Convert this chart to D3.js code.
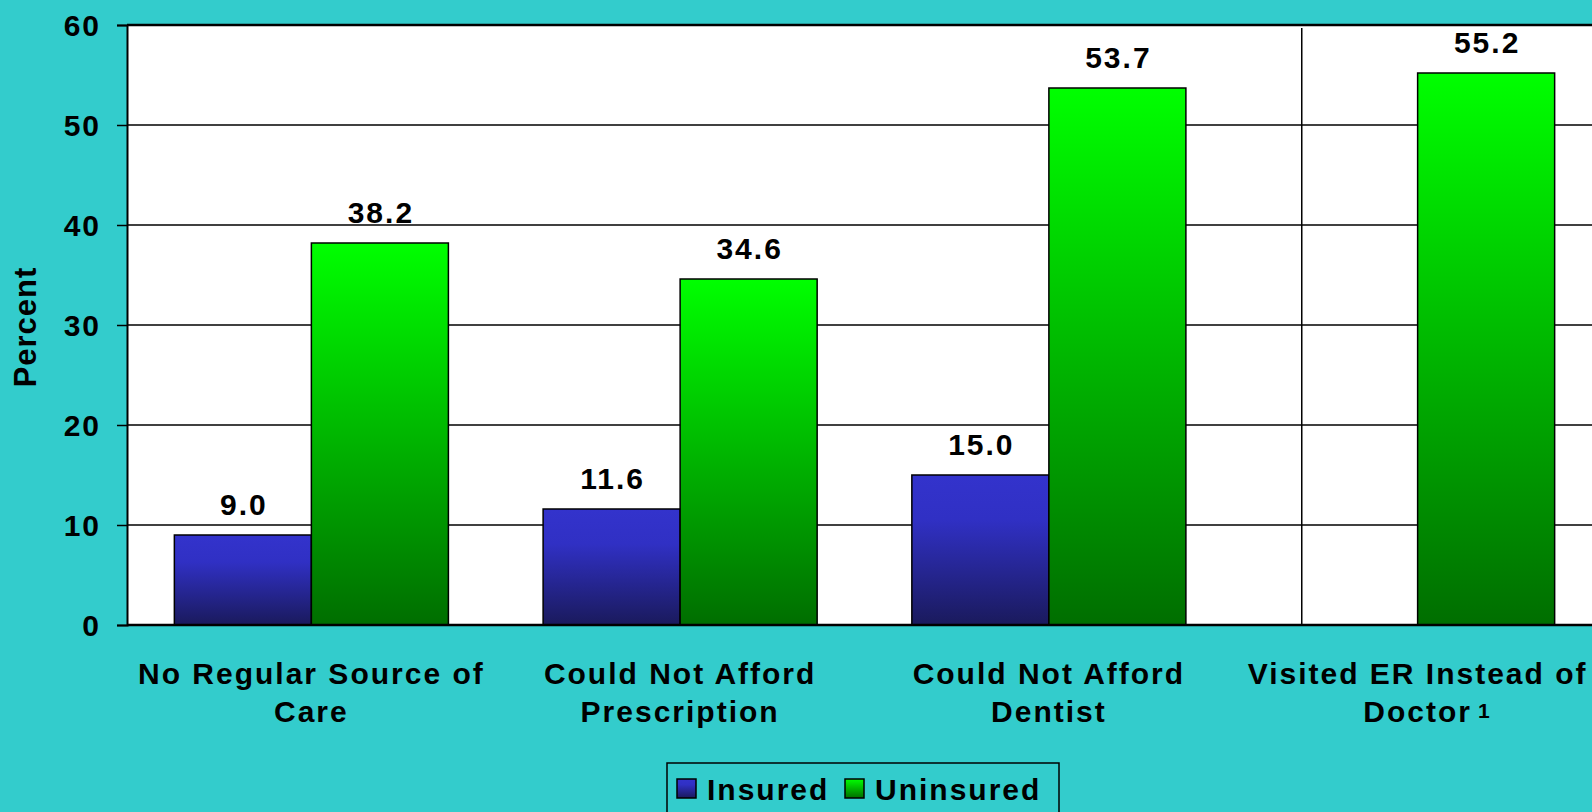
<!DOCTYPE html>
<html>
<head>
<meta charset="utf-8">
<script src="https://cdn.jsdelivr.net/npm/d3@7/dist/d3.min.js"></script>
<style>
  html, body { margin: 0; padding: 0; background: #33cccc; overflow: hidden; }
  text { font-family: "Liberation Sans", Arial, sans-serif; font-weight: bold; fill: #000; }
</style>
</head>
<body>
<svg id="chart" width="1592" height="812"></svg>
<script>
// chart data
var categories = ["No Regular Source of Care", "Could Not Afford Prescription", "Could Not Afford Dentist", "Visited ER Instead of Doctor"];
var categoryLines = [["No Regular Source of", "Care"], ["Could Not Afford", "Prescription"], ["Could Not Afford", "Dentist"], ["Visited ER Instead of", "Doctor"]];
var seriesNames = ["Insured", "Uninsured"];
var insured = [9.0, 11.6, 15.0, null];
var uninsured = [38.2, 34.6, 53.7, 55.2];
var yTicks = [0, 10, 20, 30, 40, 50, 60];

var svg = d3.select("#chart");

var plot = {left: 127, top: 25, right: 1602, bottom: 625};

var x = d3.scaleBand()
    .domain(categories)
    .range([plot.left, plot.right])
    .paddingInner(0).paddingOuter(0);

var xs = d3.scaleBand()
    .domain(seriesNames)
    .range([0, x.bandwidth()])
    .paddingInner(0)
    .paddingOuter(0.3456);

var y = d3.scaleLinear().domain([0, 60]).range([plot.bottom, plot.top]);

// gradients
var defs = svg.append("defs");
var gBlue = defs.append("linearGradient").attr("id", "gradBlue")
    .attr("x1", 0).attr("y1", 0).attr("x2", 0).attr("y2", 1);
gBlue.append("stop").attr("offset", "0%").attr("stop-color", "#3333cc");
gBlue.append("stop").attr("offset", "30%").attr("stop-color", "#3030c4");
gBlue.append("stop").attr("offset", "100%").attr("stop-color", "#1a1a5c");
var gGreen = defs.append("linearGradient").attr("id", "gradGreen")
    .attr("x1", 0).attr("y1", 0).attr("x2", 0).attr("y2", 1);
gGreen.append("stop").attr("offset", "0%").attr("stop-color", "#00ff00");
gGreen.append("stop").attr("offset", "100%").attr("stop-color", "#006e00");

var fills = {Insured: "url(#gradBlue)", Uninsured: "url(#gradGreen)"};

// plot background
svg.append("rect")
    .attr("x", plot.left).attr("y", plot.top)
    .attr("width", plot.right - plot.left).attr("height", plot.bottom - plot.top)
    .attr("fill", "#fff");

// horizontal gridlines
svg.append("g")
    .selectAll("line")
    .data(yTicks.filter(function (d) { return d > 0 && d < 60; }))
    .enter().append("line")
    .attr("x1", plot.left).attr("x2", plot.right)
    .attr("y1", function (d) { return y(d); })
    .attr("y2", function (d) { return y(d); })
    .attr("stroke", "#000").attr("stroke-width", 1.5);

// vertical separator between last two groups
var sepX = ((x(categories[2]) + xs("Uninsured") + xs.bandwidth()) + (x(categories[3]) + xs("Uninsured"))) / 2;
svg.append("line")
    .attr("x1", sepX).attr("x2", sepX)
    .attr("y1", y(60) + 3).attr("y2", y(0))
    .attr("stroke", "#000").attr("stroke-width", 1.5);

// bars
var rows = [];
categories.forEach(function (c, i) {
    rows.push({cat: c, series: "Insured", value: insured[i]});
    rows.push({cat: c, series: "Uninsured", value: uninsured[i]});
});
rows = rows.filter(function (d) { return d.value != null; });

svg.append("g")
    .selectAll("rect")
    .data(rows)
    .enter().append("rect")
    .attr("x", function (d) { return x(d.cat) + xs(d.series); })
    .attr("y", function (d) { return y(d.value); })
    .attr("width", xs.bandwidth())
    .attr("height", function (d) { return y(0) - y(d.value); })
    .attr("fill", function (d) { return fills[d.series]; })
    .attr("stroke", "#000").attr("stroke-width", 1.5);

// value labels
svg.append("g")
    .selectAll("text")
    .data(rows)
    .enter().append("text")
    .attr("x", function (d) { return x(d.cat) + xs(d.series) + xs.bandwidth() / 2 + 1; })
    .attr("y", function (d) { return y(d.value) - 20; })
    .attr("text-anchor", "middle")
    .style("font-size", "30px")
    .style("letter-spacing", "2px")
    .text(function (d) { return d.value.toFixed(1); });

// axes frame
svg.append("line").attr("x1", plot.left).attr("x2", plot.right)
    .attr("y1", plot.top).attr("y2", plot.top)
    .attr("stroke", "#000").attr("stroke-width", 2.5);
svg.append("line").attr("x1", plot.left).attr("x2", plot.right)
    .attr("y1", plot.bottom).attr("y2", plot.bottom)
    .attr("stroke", "#000").attr("stroke-width", 2.5);

var yAxis = svg.append("g")
    .attr("transform", "translate(" + plot.left + ",0)")
    .call(d3.axisLeft(y).tickValues(yTicks).tickSize(10).tickPadding(16).tickFormat(d3.format("d")));
yAxis.select(".domain").attr("stroke", "#000").attr("stroke-width", 2);
yAxis.selectAll(".tick line").attr("stroke", "#000").attr("stroke-width", 1.5);
yAxis.selectAll(".tick text")
    .attr("fill", "#000")
    .attr("dy", "0.36em")
    .style("font-family", "\"Liberation Sans\", Arial, sans-serif")
    .style("font-weight", "bold")
    .style("font-size", "30px")
    .style("letter-spacing", "2px");

// y title
svg.append("text")
    .attr("transform", "translate(36,327) rotate(-90)")
    .attr("text-anchor", "middle")
    .style("font-size", "31px")
    .style("letter-spacing", "1px")
    .text("Percent");

// category labels
var catG = svg.append("g")
    .selectAll("text")
    .data(categories)
    .enter().append("text")
    .attr("text-anchor", "middle")
    .style("font-size", "30px")
    .style("letter-spacing", "2px");
catG.each(function (c, i) {
    var t = d3.select(this);
    var cx = x(c) + x.bandwidth() / 2;
    t.append("tspan").attr("x", cx).attr("y", 684).text(categoryLines[i][0]);
    var second = t.append("tspan").attr("x", cx).attr("y", 722).text(categoryLines[i][1]);
    if (i === 3) {
        // footnote marker after "Doctor"
        var w = second.node().getComputedTextLength();
        svg.append("text")
            .attr("x", cx + w / 2 + 6)
            .attr("y", 718)
            .style("font-size", "21px")
            .text("1");
    }
});

// legend
var legend = svg.append("g");
legend.append("rect")
    .attr("x", 667).attr("y", 763).attr("width", 392).attr("height", 60)
    .attr("fill", "none").attr("stroke", "#000").attr("stroke-width", 1.5);
var legItems = [
    {name: "Insured", fill: fills.Insured, x: 677},
    {name: "Uninsured", fill: fills.Uninsured, x: 845}
];
legItems.forEach(function (d) {
    legend.append("rect")
        .attr("x", d.x).attr("y", 779).attr("width", 19).attr("height", 19)
        .attr("fill", d.fill).attr("stroke", "#000").attr("stroke-width", 1.5);
    legend.append("text")
        .attr("x", d.x + 30).attr("y", 800)
        .style("font-size", "30px")
        .style("letter-spacing", "2px")
        .text(d.name);
});
</script>
</body>
</html>
